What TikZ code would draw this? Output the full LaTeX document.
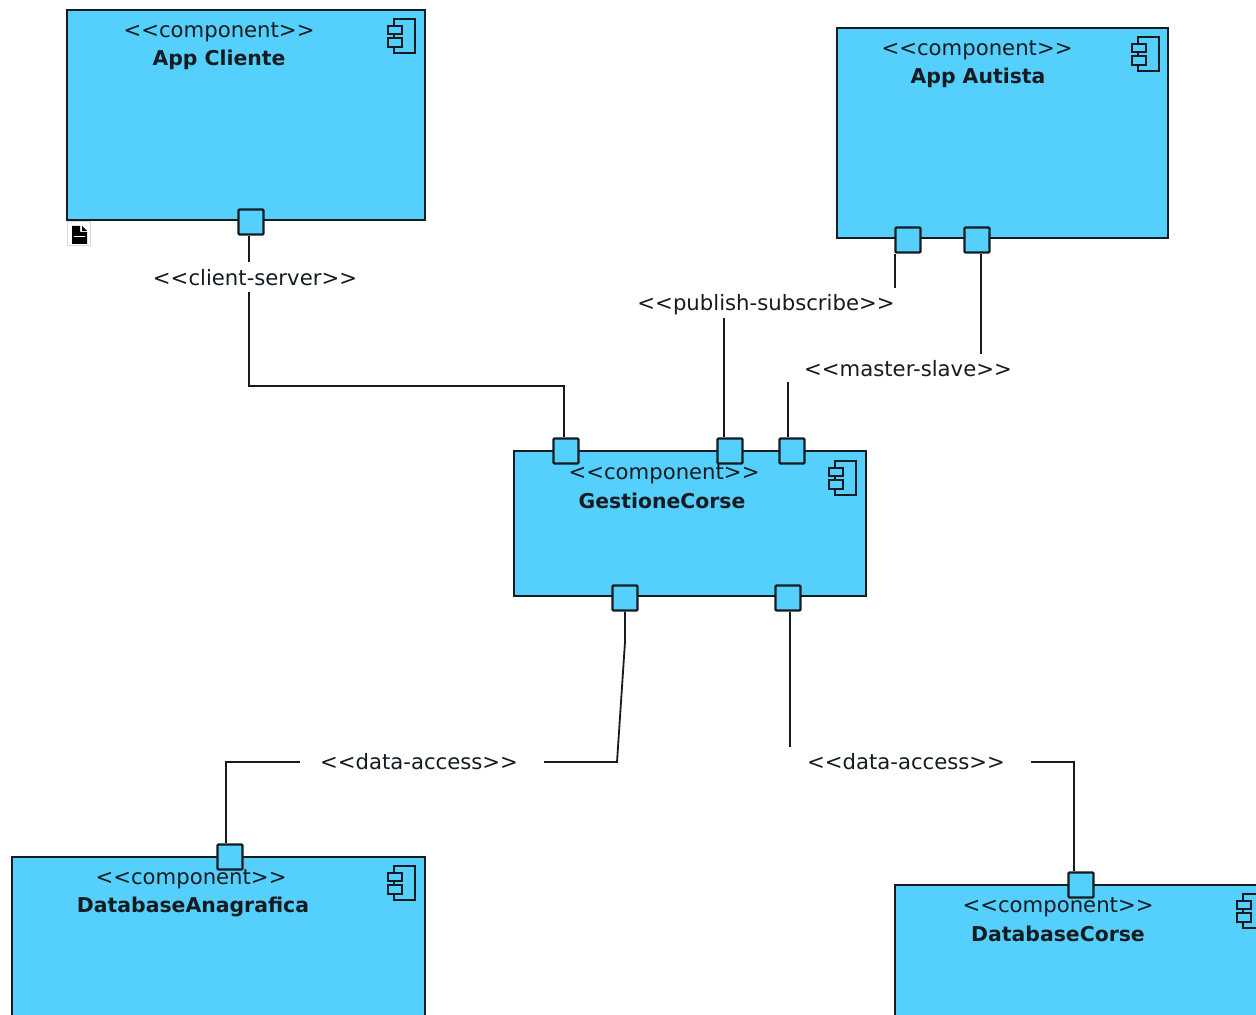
\documentclass[tikz,border=0pt]{standalone}
\usepackage{fontspec}
\setmainfont{DejaVu Sans}
\definecolor{compblue}{HTML}{55CFFC}
\definecolor{linegray}{HTML}{141C22}
\newcommand{\stereo}[1]{{<}{<}#1{>}{>}}
\tikzset{
  comp/.style={draw=linegray,fill=compblue,line width=1.15pt,anchor=north west,inner sep=0pt},
  port/.style={draw=linegray,fill=compblue,line width=1.15pt,minimum size=12.5pt,inner sep=0pt,rounded corners=0.5pt},
  conn/.style={draw=linegray,line width=0.9pt},
  txt/.style={font=\fontsize{10.6}{12}\selectfont,inner sep=1pt,text=linegray},
  title/.style={font=\fontsize{10.2}{12}\selectfont\bfseries,inner sep=1pt,text=linegray},
  compicon/.pic={
    \draw[draw=linegray,line width=1.2pt] (0,0) rectangle (21,34);
    \draw[draw=linegray,fill=compblue,line width=1.2pt] (-6,7) rectangle (8,15);
    \draw[draw=linegray,fill=compblue,line width=1.2pt] (-6,19) rectangle (8,28);
  }
}
\begin{document}
\begin{tikzpicture}[x=0.5pt,y=-0.5pt]
\clip (0,0) rectangle (1256,1015);
\fill[white] (0,0) rectangle (1256,1015);

% boxes
\node[comp,minimum width=179pt,minimum height=105pt] (cliente) at (66,9) {};
\node[comp,minimum width=165.5pt,minimum height=105pt] (autista) at (836,27) {};
\node[comp,minimum width=176pt,minimum height=72.5pt] (gestione) at (513,450) {};
\node[comp,minimum width=206.5pt,minimum height=120pt] (anagrafica) at (11,856) {};
\node[comp,minimum width=220pt,minimum height=120pt] (corse) at (894,884) {};

\pic at (394,19) {compicon};
\pic at (1138,37) {compicon};
\pic at (835,461) {compicon};
\pic at (394,866) {compicon};
\pic at (1243,894) {compicon};

% labels
\node[txt] (lclient) at (255,278) {\stereo{client-server}};
\node[txt] (lpublish) at (766,305) {\stereo{publish-subscribe}};
\node[txt] (lmaster) at (908,369) {\stereo{master-slave}};
\node[txt] (ldata1) at (419,762) {\stereo{data-access}};
\node[txt] (ldata2) at (906,762) {\stereo{data-access}};

% connectors
\node[port] (pcliente) at (251,222) {};
\node[port] (paut1) at (908,240) {};
\node[port] (paut2) at (977,240) {};
\node[port] (pges1) at (566,451) {};
\node[port] (pges2) at (730,451) {};
\node[port] (pges3) at (792,451) {};
\node[port] (pges4) at (625,598) {};
\node[port] (pges5) at (788,598) {};
\node[port] (pana) at (230,857) {};
\node[port] (pcorse) at (1081,885) {};

\coordinate (c1) at (249,262);
\coordinate (c2) at (249,292);
\coordinate (c3) at (249,386);
\coordinate (c4) at (564,386);
\coordinate (c5) at (895,288);
\coordinate (c6) at (724,318);
\coordinate (c7) at (981,354);
\coordinate (c8) at (788,382);
\coordinate (c9) at (625,642);
\coordinate (c10) at (617,762);
\coordinate (c11) at (544,762);
\coordinate (c12) at (300,762);
\coordinate (c13) at (226,762);
\coordinate (c14) at (790,747);
\coordinate (c15) at (1031,762);
\coordinate (c16) at (1074,762);

\draw[conn] (pcliente.south -| c1) -- (c1);
\draw[conn] (c2) -- (c3) -- (c4) -- (pges1.north -| c4);
\draw[conn] (paut1.south -| c5) -- (c5);
\draw[conn] (c6) -- (pges2.north -| c6);
\draw[conn] (paut2.south -| c7) -- (c7);
\draw[conn] (c8) -- (pges3.north -| c8);
\draw[conn] (pges4.south) -- (c9) -- (c10) -- (c11);
\draw[conn] (c12) -- (c13) -- (pana.north -| c13);
\draw[conn] (pges5.south -| c14) -- (c14);
\draw[conn] (c15) -- (c16) -- (pcorse.north -| c16);

% titles
\node[txt] (scliente) at (219,32) {\stereo{component}};
\node[title] (tcliente) at (219,60) {App Cliente};
\node[txt] (sautista) at (977,50) {\stereo{component}};
\node[title] (tautista) at (978,78) {App Autista};
\node[txt] (sgestione) at (664,474) {\stereo{component}};
\node[title] (tgestione) at (662,501) {GestioneCorse};
\node[txt] (sanagrafica) at (191,879) {\stereo{component}};
\node[title] (tanagrafica) at (193,907) {DatabaseAnagrafica};
\node[txt] (scorse) at (1058,907) {\stereo{component}};
\node[title] (tcorse) at (1058,934) {DatabaseCorse};

% note icon
\draw[draw=black!15,fill=white,line width=0.5pt] (67,222) rectangle (90,246);
\fill[black] (72,226) -- (80,226) -- (80,232) -- (87,232) -- (87,244) -- (72,244) -- cycle;
\fill[black] (82,226) -- (87,231) -- (82,231) -- cycle;
\draw[white,line width=0.5pt] (74,237) -- (85,237);
\end{tikzpicture}
\end{document}
